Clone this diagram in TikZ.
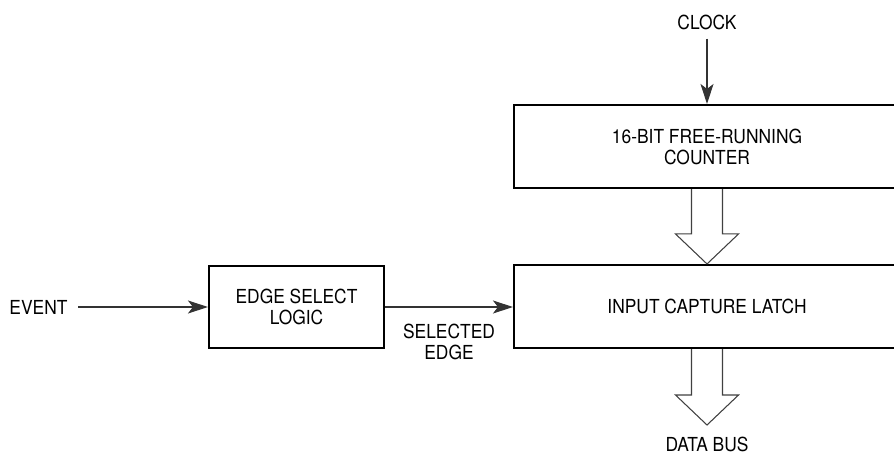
\documentclass[tikz,border=0pt]{standalone}
\usepackage{fontspec}
\setmainfont{TeX Gyre Heros}[FakeStretch=0.9]
\usepackage{tikz}
\usetikzlibrary{arrows.meta, calc, positioning}
\tikzset{
>={Stealth[length=4mm,width=2.6mm,inset=1mm]}, % filled arrow heads
every node/.style={inner sep=1pt, font=\fontsize{11}{12}\selectfont},
block/.style={draw, line width=1.2pt, minimum width=7.72cm, minimum height=1.66cm, align=center},
small block/.style={block, minimum width=3.5cm, minimum height=1.64cm},
sig/.style={->, line width=0.6pt, draw=black!80}, % single line signal
bus/.style={line width=0.6pt, draw=black!75, fill=white}, % hollow bus arrow
}

\begin{document}
\begin{tikzpicture}
  \useasboundingbox (0,0) rectangle (17.88,9.08);
  \clip (0,0) rectangle (17.88,9.08);
  \node[block] (cnt) at (14.14,6.15) {16-BIT FREE-RUNNING\\COUNTER};
  \node[block] (ltc) at (14.14,2.95) {INPUT CAPTURE LATCH};
  \node[small block] (esl) at (5.93,2.94) {EDGE SELECT\\LOGIC};
  \node[] (ev) at (0.77,2.94) {EVENT};
  \node[] (clk) at (14.14,8.64) {CLOCK};
  \node[] (db) at (14.14,0.2) {DATA BUS};
  \coordinate (dbtip) at (14.14,0.58);
  % signals
  \draw[sig, shorten <=5pt] (ev.east) -- (esl.west);
  \draw[sig] (esl.east) -- node[below=3mm, align=center] {SELECTED\\EDGE} (ltc.west |- esl.east);
  \draw[sig, shorten <=4pt] (clk.south) -- (cnt.north);
  % bus arrows
  \draw[bus] ($(cnt.south)+(-.31,0)$) -- ($(ltc.north)+(-.31,.6)$) -- ($(ltc.north)+(-.63,.6)$)
    -- (ltc.north) -- ($(ltc.north)+(.63,.6)$) -- ($(ltc.north)+(.31,.6)$) -- ($(cnt.south)+(.31,0)$);
  \draw[bus] ($(ltc.south)+(-.31,0)$) -- ($(dbtip)+(-.31,.6)$) -- ($(dbtip)+(-.63,.6)$)
    -- (dbtip) -- ($(dbtip)+(.63,.6)$) -- ($(dbtip)+(.31,.6)$) -- ($(ltc.south)+(.31,0)$);
\end{tikzpicture}
\end{document}
